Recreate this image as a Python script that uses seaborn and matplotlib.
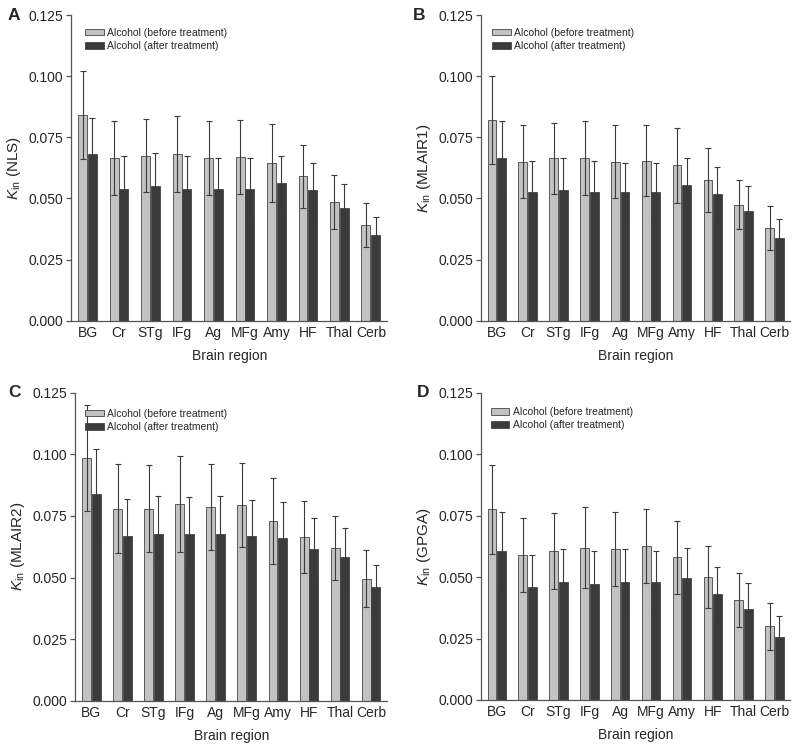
# K_in by brain region, alcohol before/after treatment, four estimation methods
import numpy as np
import pandas as pd
import matplotlib
matplotlib.use("Agg")
import matplotlib.pyplot as plt
import seaborn as sb

regions = ["BG", "Cr", "STg", "IFg", "Ag", "MFg", "Amy", "HF", "Thal", "Cerb"]
groups = ["Alcohol (before treatment)", "Alcohol (after treatment)"]

# panel A - NLS
nls_before = [0.084, 0.0665, 0.0675, 0.068, 0.0665, 0.067, 0.0645, 0.059, 0.0485, 0.039]
nls_before_sd = [0.018, 0.015, 0.015, 0.0155, 0.015, 0.015, 0.016, 0.013, 0.011, 0.009]
nls_after = [0.068, 0.054, 0.055, 0.054, 0.054, 0.054, 0.0565, 0.0535, 0.046, 0.035]
nls_after_sd = [0.015, 0.0135, 0.0135, 0.0135, 0.0125, 0.0125, 0.011, 0.011, 0.010, 0.0075]

# panel B - MLAIR1
mlair1_before = [0.082, 0.065, 0.0665, 0.0665, 0.065, 0.0655, 0.0635, 0.0575, 0.0475, 0.038]
mlair1_before_sd = [0.018, 0.015, 0.0145, 0.015, 0.015, 0.0145, 0.0155, 0.013, 0.010, 0.009]
mlair1_after = [0.0665, 0.0525, 0.0535, 0.0525, 0.0525, 0.0525, 0.0555, 0.052, 0.045, 0.034]
mlair1_after_sd = [0.015, 0.013, 0.013, 0.013, 0.012, 0.012, 0.011, 0.011, 0.010, 0.0075]

# panel C - MLAIR2
mlair2_before = [0.0985, 0.078, 0.078, 0.080, 0.0785, 0.0795, 0.073, 0.0665, 0.062, 0.0495]
mlair2_before_sd = [0.0215, 0.018, 0.0175, 0.0195, 0.0175, 0.017, 0.0175, 0.0145, 0.013, 0.0115]
mlair2_after = [0.084, 0.067, 0.0675, 0.0675, 0.0675, 0.067, 0.066, 0.0615, 0.0585, 0.046]
mlair2_after_sd = [0.018, 0.015, 0.0155, 0.015, 0.0155, 0.0145, 0.0145, 0.0125, 0.0115, 0.009]

# panel D - GPGA
gpga_before = [0.0775, 0.059, 0.0605, 0.062, 0.0615, 0.0625, 0.058, 0.050, 0.0405, 0.030]
gpga_before_sd = [0.018, 0.015, 0.0155, 0.0165, 0.015, 0.015, 0.015, 0.0125, 0.011, 0.0095]
gpga_after = [0.0605, 0.046, 0.048, 0.047, 0.048, 0.048, 0.0495, 0.043, 0.037, 0.0255]
gpga_after_sd = [0.016, 0.013, 0.0135, 0.0135, 0.0135, 0.0125, 0.0125, 0.011, 0.0105, 0.0085]

panels = [
    ("A", "NLS", nls_before, nls_before_sd, nls_after, nls_after_sd),
    ("B", "MLAIR1", mlair1_before, mlair1_before_sd, mlair1_after, mlair1_after_sd),
    ("C", "MLAIR2", mlair2_before, mlair2_before_sd, mlair2_after, mlair2_after_sd),
    ("D", "GPGA", gpga_before, gpga_before_sd, gpga_after, gpga_after_sd),
]

# axes boxes in figure fractions [left, bottom, width, height]
boxes = [
    [0.089, 0.573, 0.395, 0.407],
    [0.601, 0.573, 0.387, 0.407],
    [0.094, 0.067, 0.390, 0.410],
    [0.601, 0.068, 0.387, 0.409],
]
# legend anchors and letter x offsets (axes fractions)
legend_pos = [(0.044, 0.958), (0.036, 0.958), (0.032, 0.948), (0.032, 0.954)]
letter_x = [-0.20, -0.22, -0.215, -0.207]

sb.set_style("ticks")
plt.rcParams["font.family"] = ["Liberation Sans", "DejaVu Sans"]
plt.rcParams["mathtext.fontset"] = "custom"
plt.rcParams["mathtext.rm"] = "Liberation Sans"
plt.rcParams["mathtext.it"] = "Liberation Sans:italic"

light = "#c2c2c2"
dark = "#3b3b3b"
axis_col = "#555555"

fig = plt.figure(figsize=(8, 7.51), dpi=100)

for i, (letter, method, before, before_sd, after, after_sd) in enumerate(panels):
    ax = fig.add_axes(boxes[i])
    df = pd.DataFrame({
        "region": regions * 2,
        "group": [groups[0]] * len(regions) + [groups[1]] * len(regions),
        "kin": before + after,
        "sd": before_sd + after_sd,
    })
    sb.barplot(data=df, x="region", y="kin", hue="group", order=regions,
               hue_order=groups, palette=[light, dark], errorbar=None,
               width=0.62, gap=0.08, edgecolor="#444444", linewidth=0.6, ax=ax)

    # error bars at bar centres
    bars = [p for p in ax.patches][:2 * len(regions)]
    xs = [b.get_x() + b.get_width() / 2 for b in bars]
    ax.errorbar(xs, df["kin"], yerr=df["sd"], fmt="none", ecolor="#3a3a3a",
                elinewidth=0.8, capsize=2, capthick=0.8)

    ax.set_xlim(-0.52, 9.52)
    ax.set_ylim(0, 0.125)
    ax.set_yticks([0, 0.025, 0.05, 0.075, 0.1, 0.125])
    ax.set_yticklabels(["0.000", "0.025", "0.050", "0.075", "0.100", "0.125"])
    ax.set_xlabel("Brain region", fontsize=10, labelpad=6)
    ax.set_ylabel(r"$K_{\mathrm{in}}$ (" + method + ")", fontsize=11, labelpad=4)
    ax.tick_params(axis="y", labelsize=10, length=3.5, width=0.9, color=axis_col, pad=2)
    ax.tick_params(axis="x", labelsize=10, length=0, pad=4)
    for s in ["left", "bottom"]:
        ax.spines[s].set_color(axis_col)
        ax.spines[s].set_linewidth(0.9)
    sb.despine(ax=ax)

    ax.legend(loc="upper left", bbox_to_anchor=legend_pos[i], frameon=False,
              fontsize=7.5, handlelength=1.8, handleheight=0.6, borderpad=0,
              handletextpad=0.3, labelspacing=0.3, borderaxespad=0)
    ax.text(letter_x[i], 1.0, letter, transform=ax.transAxes, fontsize=12.5,
            fontweight="bold", va="center", ha="left")

plt.savefig("out.png", dpi=100)
